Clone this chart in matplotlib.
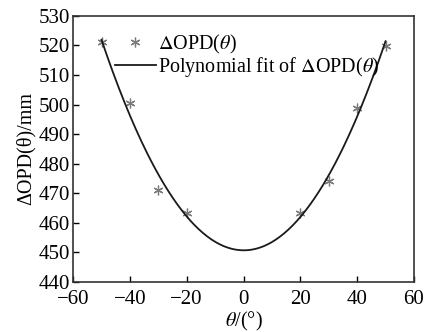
import matplotlib
matplotlib.use('Agg')
import matplotlib.pyplot as plt
import numpy as np

plt.rcParams['font.family'] = 'Liberation Serif'
plt.rcParams['mathtext.fontset'] = 'stix'

theta = np.array([-50, -40, -30, -20, 20, 30, 40, 50])
opd = np.array([521.2, 500.7, 471.0, 463.3, 463.3, 474.0, 499.0, 519.7])

# quadratic fit of the measured points
z = np.polyfit(theta, opd, 2)
p = np.poly1d(z)
xf = np.linspace(-50, 50, 200)

fig = plt.figure(figsize=(4.25, 3.32), dpi=100)
ax = fig.add_axes([0.172, 0.151, 0.802, 0.801])

ax.plot(theta, opd, linestyle='none', marker=(6, 2, 0), markersize=7,
        color='#7a7a7a', markeredgewidth=0.9, label=r'$\Delta$OPD($\theta$)')
ax.plot(xf, p(xf), color='#1a1a1a', linewidth=1.3,
        label=r'Polynomial fit of $\Delta$OPD($\theta$)')

ax.set_xlim(-60, 60)
ax.set_ylim(440, 530)
ax.set_xticks(np.arange(-60, 61, 20))
ax.set_yticks(np.arange(440, 531, 10))
ax.set_xticklabels(['\u221260', '\u221240', '\u221220', '0', '20', '40', '60'])
ax.tick_params(direction='in', labelsize=15, length=4, width=1)
ax.tick_params(axis='x', pad=6)
ax.tick_params(axis='y', pad=2)
for s in ax.spines.values():
    s.set_linewidth(1.2)
    s.set_color('#333333')

ax.set_xlabel(r'$\theta$/(°)', fontsize=14.5, labelpad=0.5)
ax.set_ylabel('\u0394OPD(\u03b8)/mm', fontsize=14.5, labelpad=2)

ax.legend(loc='upper left', bbox_to_anchor=(0.118, 0.945), frameon=False,
          fontsize=14.5, handlelength=2.0, handletextpad=0.1, borderpad=0.1,
          labelspacing=-0.05, borderaxespad=0)

fig.savefig('out.png', dpi=100)
